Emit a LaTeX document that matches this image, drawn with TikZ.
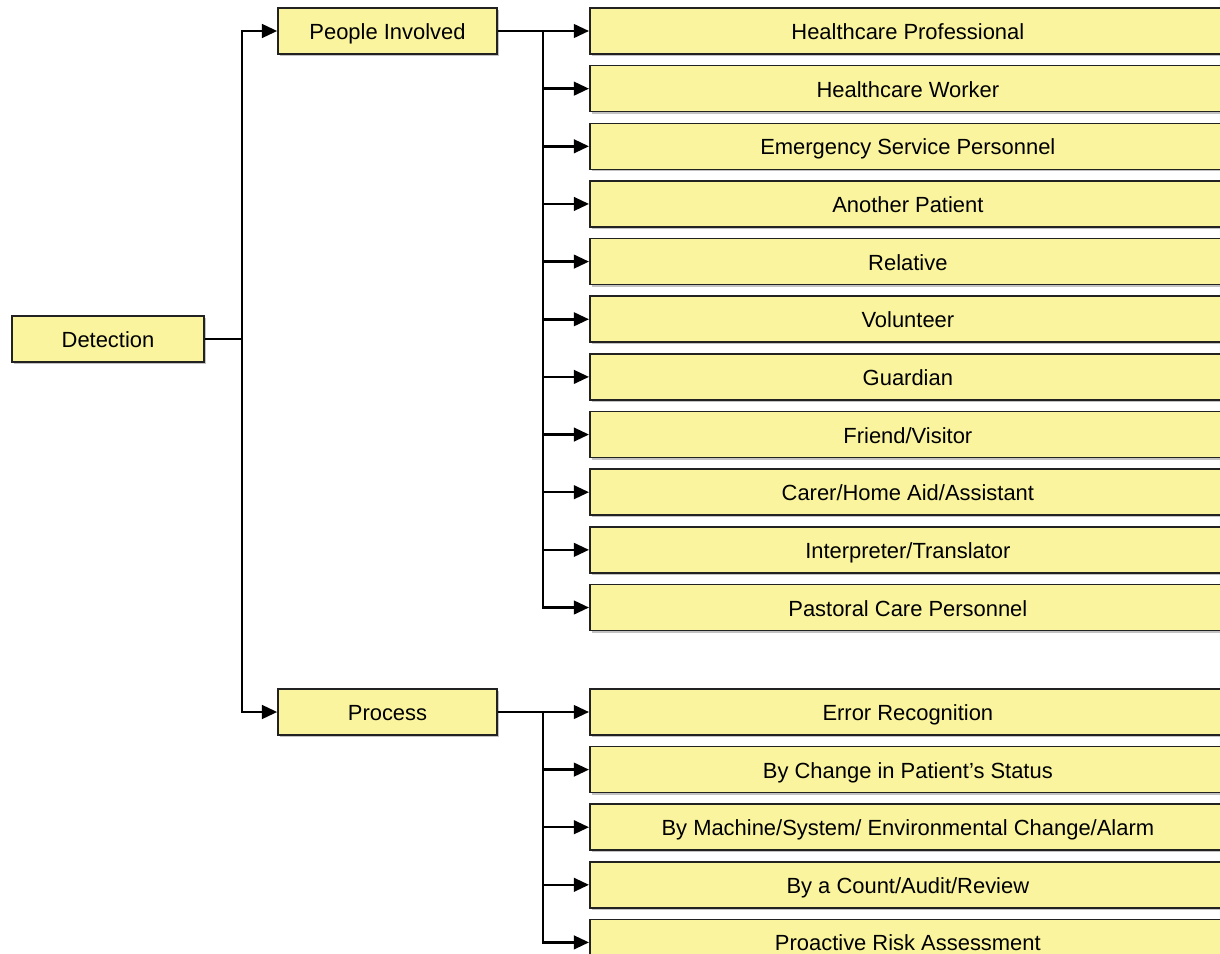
\documentclass[tikz,border=0pt]{standalone}
\usepackage{fontspec}
\setmainfont{Liberation Sans}
\usetikzlibrary{arrows.meta,positioning,shadows}
\definecolor{boxyellow}{HTML}{F9F49D}
\definecolor{boxedge}{HTML}{222222}

\begin{document}
\begin{tikzpicture}[
		x=0.025cm, y=-0.025cm,
		>={Triangle[length=0.38cm, width=0.34cm]},
		font=\fontsize{15.6}{19}\selectfont,
		box/.style={draw=boxedge, fill=boxyellow, line width=1.1pt,
				minimum height=1.15cm, inner sep=0pt, align=center,
				text height=12.5pt, text depth=0.3pt,
				drop shadow={shadow xshift=0.05cm, shadow yshift=-0.05cm,
						fill=black!40, opacity=0.6}},
		root/.style={box, minimum width=4.8cm},
		branch/.style={box, minimum width=5.475cm},
		leaf/.style={box, minimum width=15.9cm, anchor=west},
		conn/.style={line width=1.8pt, draw=black},
	]

	\clip (0,0) rectangle (1220,953);

	\node[root] (detect) at (108, 339) {Detection};
	\node[branch] (people) at (387.5, 31) {People Involved};
	\node[branch] (process) at (387.5, 712) {Process};

	% people involved
	\foreach \t [count=\i] in {Healthcare Professional, Healthcare Worker,
			Emergency Service Personnel, Another Patient, Relative, Volunteer,
			Guardian, Friend/Visitor, Carer/Home Aid/Assistant,
			Interpreter/Translator, Pastoral Care Personnel}
	\node[leaf] (p\i) at (589, {31+57.65*(\i-1)}) {\t};

	% process
	\foreach \t [count=\i] in {Error Recognition, By Change in Patient’s Status,
			By Machine/System/ Environmental Change/Alarm,
			By a Count/Audit/Review, Proactive Risk Assessment}
	\node[leaf] (r\i) at (589, {712+57.6*(\i-1)}) {\t};

	\coordinate (trunk) at (242, 339);
	\coordinate (pbus) at (543, 31);
	\coordinate (rbus) at (543, 712);

	\draw[conn] (detect.east) -- (trunk);
	\draw[conn, ->] (trunk) |- (people.west);
	\draw[conn, ->] (trunk) |- (process.west);

	\draw[conn] (people.east) -- (pbus);
	\foreach \i in {1,...,11}
	\draw[conn, ->] (pbus) |- (p\i.west);

	\draw[conn] (process.east) -- (rbus);
	\foreach \i in {1,...,5}
	\draw[conn, ->] (rbus) |- (r\i.west);

\end{tikzpicture}
\end{document}
